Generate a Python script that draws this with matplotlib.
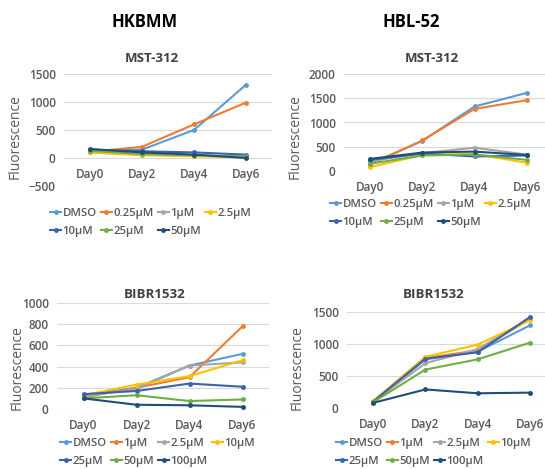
import numpy as np
import matplotlib
matplotlib.use("Agg")
import matplotlib.pyplot as plt

days = ["Day0", "Day2", "Day4", "Day6"]

# HKBMM, MST-312
mst_doses = ["DMSO", "0.25µM", "1µM", "2.5µM", "10µM", "25µM", "50µM"]
hk_mst = [
    [130, 150, 500, 1310],
    [110, 200, 600, 990],
    [100, 60, 40, 20],
    [100, 50, 30, 15],
    [150, 120, 100, 60],
    [130, 70, 50, 30],
    [160, 100, 60, 0],
]
# HBL-52, MST-312
hb_mst = [
    [150, 620, 1330, 1610],
    [130, 630, 1280, 1460],
    [200, 370, 480, 340],
    [80, 330, 350, 170],
    [230, 360, 300, 320],
    [150, 320, 340, 230],
    [250, 380, 400, 330],
]

# BIBR1532
bibr_doses = ["DMSO", "1µM", "2.5µM", "10µM", "25µM", "50µM", "100µM"]
hk_bibr = [
    [130, 200, 410, 520],
    [110, 200, 300, 780],
    [120, 190, 410, 440],
    [130, 230, 310, 460],
    [140, 170, 240, 210],
    [100, 130, 75, 90],
    [100, 40, 35, 20],
]
hb_bibr = [
    [100, 760, 880, 1290],
    [90, 780, 900, 1390],
    [100, 700, 920, 1400],
    [110, 800, 990, 1370],
    [100, 770, 870, 1420],
    [90, 600, 760, 1020],
    [80, 290, 230, 240],
]

colors = ["#5B9BD5", "#ED7D31", "#A5A5A5", "#FFC000", "#3A63AE", "#70AD47", "#1F4E79"]

plt.rcParams['font.family'] = ['Open Sans', 'DejaVu Sans']

W, H = 545, 469
fig = plt.figure(figsize=(W / 100, H / 100), dpi=100)

# legend fills column by column; this order gives rows like Excel
leg_order = [0, 4, 1, 5, 2, 6, 3]


def panel(x0, x1, ytop, ybot, xmax, ylim, step, data, labels, title, title_xy,
          ylab_xy, leg_xy):
    ax = fig.add_axes([x0 / W, 1 - ybot / H, (x1 - x0) / W, (ybot - ytop) / H])
    x = np.arange(len(days))
    for vals, lab, c in zip(data, labels, colors):
        ax.plot(x, vals, color=c, lw=1.5, marker='o', ms=2.5, label=lab)
    ax.set_xlim(-0.5, xmax)
    ax.set_ylim(*ylim)
    ax.set_yticks(np.arange(ylim[0], ylim[1] + 1, step))
    ax.set_xticks(x)
    ax.set_xticklabels(days)
    ax.grid(axis='y', color='#D9D9D9', lw=0.8)
    ax.set_axisbelow(True)
    for s in ax.spines.values():
        s.set_visible(False)
    ax.spines['bottom'].set_position(('data', 0))
    ax.tick_params(length=0, labelsize=8.5, colors='#595959')
    ax.tick_params(axis='x', pad=7)
    ax.tick_params(axis='y', pad=6)
    for t in ax.get_xticklabels() + ax.get_yticklabels():
        t.set_fontweight('semibold')
    fig.text(title_xy[0] / W, 1 - title_xy[1] / H, title, ha='center',
             va='center', fontsize=9.5, fontweight='bold', color='#404040')
    fig.text(ylab_xy[0] / W, 1 - ylab_xy[1] / H, "Fluorescence", rotation=90,
             ha='center', va='center', fontsize=10, color='#595959')
    h, l = ax.get_legend_handles_labels()
    leg = ax.legend([h[i] for i in leg_order], [l[i] for i in leg_order],
                    loc='upper left', bbox_to_anchor=(leg_xy[0] / W, 1 - leg_xy[1] / H),
                    bbox_transform=fig.transFigure, ncol=4, frameon=False,
                    prop={'size': 8.2, 'weight': 'semibold'}, handlelength=1.0,
                    handletextpad=0.1, columnspacing=0.35, labelspacing=0.6,
                    borderpad=0, borderaxespad=0)
    for t in leg.get_texts():
        t.set_color('#595959')
    return ax


panel(64, 272, 74, 186, 3.5, (-500, 1500), 500, hk_mst, mst_doses, "MST-312",
      (152, 59), (15, 137), (50, 208))
panel(344, 545, 74, 171, 3.35, (0, 2000), 500, hb_mst, mst_doses, "MST-312",
      (432, 59), (295, 137), (330, 199))
panel(57, 269, 303, 409, 3.5, (0, 1000), 200, hk_bibr, bibr_doses, "BIBR1532",
      (155, 295), (17, 368), (60, 438))
panel(347, 545, 312, 408, 3.29, (0, 1500), 500, hb_bibr, bibr_doses, "BIBR1532",
      (434, 295), (297, 368), (336, 438))

fig.text(145 / W, 1 - 22 / H, "HKBMM", ha='center', va='center', fontsize=12,
         fontweight='bold', color='black')
fig.text(411 / W, 1 - 22 / H, "HBL-52", ha='center', va='center', fontsize=12,
         fontweight='bold', color='black')

fig.savefig("out.png", dpi=100)
